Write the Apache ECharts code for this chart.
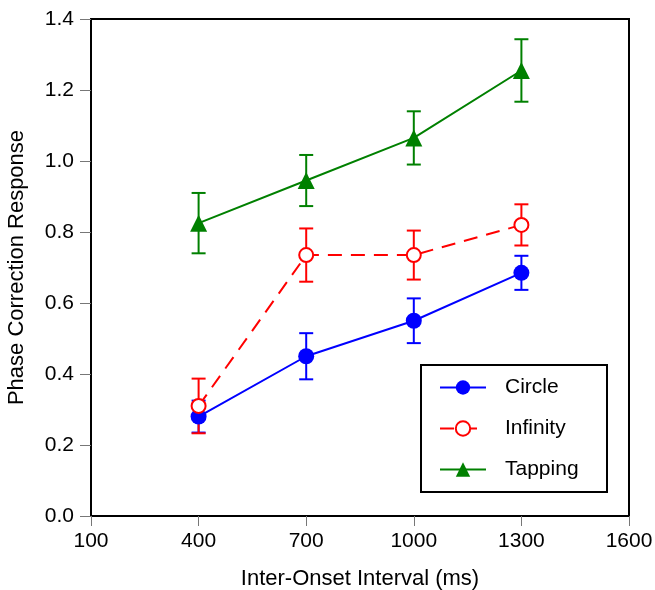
<!DOCTYPE html>
<html>
<head>
<meta charset="utf-8">
<script src="https://cdn.jsdelivr.net/npm/echarts@6/dist/echarts.min.js"></script>
<style>
html, body { margin: 0; padding: 0; background: #fff; }
#main { width: 655px; height: 590px; }
</style>
</head>
<body>
<div id="main"></div>
<script>
var ioi = [400, 700, 1000, 1300];
var circle = [0.28, 0.45, 0.55, 0.685];
var circleErr = [0.045, 0.065, 0.063, 0.048];
var infinity = [0.31, 0.735, 0.735, 0.82];
var infinityErr = [0.077, 0.075, 0.069, 0.058];
var tapping = [0.825, 0.945, 1.065, 1.255];
var tappingErr = [0.085, 0.072, 0.075, 0.088];

var blue = '#0000ff', red = '#ff0000', green = '#008000';
var font = 'Liberation Sans, Arial, Helvetica, sans-serif';

function pairs(ys) {
    return ioi.map(function (x, i) { return [x, ys[i]]; });
}
function errData(ys, es) {
    return ioi.map(function (x, i) { return [x, ys[i] - es[i], ys[i] + es[i]]; });
}
function errSeries(ys, es, color) {
    return {
        type: 'custom',
        silent: true,
        z: 1,
        data: errData(ys, es),
        renderItem: function (params, api) {
            var lo = api.coord([api.value(0), api.value(1)]);
            var hi = api.coord([api.value(0), api.value(2)]);
            var w = 7;
            var st = { stroke: color, lineWidth: 2 };
            return {
                type: 'group',
                children: [
                    { type: 'line', shape: { x1: lo[0], y1: lo[1], x2: hi[0], y2: hi[1] }, style: st },
                    { type: 'line', shape: { x1: lo[0] - w, y1: lo[1], x2: lo[0] + w, y2: lo[1] }, style: st },
                    { type: 'line', shape: { x1: hi[0] - w, y1: hi[1], x2: hi[0] + w, y2: hi[1] }, style: st }
                ]
            };
        }
    };
}

var myChart = echarts.init(document.getElementById('main'));
var option = {
    animation: false,
    textStyle: { fontFamily: font },
    grid: {
        left: 91, right: 26, top: 19, bottom: 74,
        outerBoundsMode: 'none',
        containLabel: false,
        show: true, borderColor: '#000', borderWidth: 2
    },
    xAxis: {
        type: 'value',
        min: 100, max: 1600, interval: 300,
        name: 'Inter-Onset Interval (ms)',
        nameLocation: 'middle',
        nameGap: 52,
        nameTextStyle: { fontSize: 22, color: '#000', fontFamily: font },
        axisLine: { show: true, lineStyle: { color: '#000', width: 2 } },
        axisTick: { show: true, length: 10, lineStyle: { color: '#777', width: 1 } },
        axisLabel: {
            fontSize: 21, color: '#000', margin: 15, fontFamily: font,
            formatter: function (v) { return String(v); }
        },
        splitLine: { show: false }
    },
    yAxis: {
        type: 'value',
        min: 0, max: 1.4, interval: 0.2,
        name: 'Phase Correction Response',
        nameLocation: 'middle',
        nameGap: 63,
        nameRotate: 90,
        nameTextStyle: { fontSize: 22, color: '#000', fontFamily: font },
        axisLine: { show: true, lineStyle: { color: '#000', width: 2 } },
        axisTick: { show: true, length: 11, lineStyle: { color: '#777', width: 1 } },
        axisLabel: {
            fontSize: 21, color: '#000', margin: 17, fontFamily: font,
            formatter: function (v) { return v.toFixed(1); }
        },
        splitLine: { show: false }
    },
    legend: {
        orient: 'vertical',
        left: 434, top: 372,
        itemWidth: 46, itemHeight: 18,
        itemGap: 20,
        textStyle: { fontSize: 21, color: '#000', fontFamily: font, padding: [0, 0, 0, 14] },
        data: ['Circle', 'Infinity', 'Tapping']
    },
    graphic: [{
        type: 'rect',
        shape: { x: 421, y: 365, width: 186, height: 127 },
        style: { fill: 'none', stroke: '#000', lineWidth: 2 },
        z: 10
    }],
    series: [
        errSeries(circle, circleErr, blue),
        errSeries(infinity, infinityErr, red),
        errSeries(tapping, tappingErr, green),
        {
            name: 'Circle', type: 'line', z: 3,
            data: pairs(circle),
            symbol: 'circle', symbolSize: 16,
            itemStyle: { color: blue },
            lineStyle: { color: blue, width: 2 }
        },
        {
            name: 'Infinity', type: 'line', z: 3,
            data: pairs(infinity),
            symbol: 'emptyCircle', symbolSize: 14,
            itemStyle: { color: red, borderWidth: 2 },
            lineStyle: { color: red, width: 2, type: [14, 9] }
        },
        {
            name: 'Tapping', type: 'line', z: 3,
            data: pairs(tapping),
            symbol: 'triangle', symbolSize: 17,
            itemStyle: { color: green },
            lineStyle: { color: green, width: 2 }
        }
    ]
};
myChart.setOption(option);

window.onresize = function () {
    myChart.resize();
};
</script>
</body>
</html>
